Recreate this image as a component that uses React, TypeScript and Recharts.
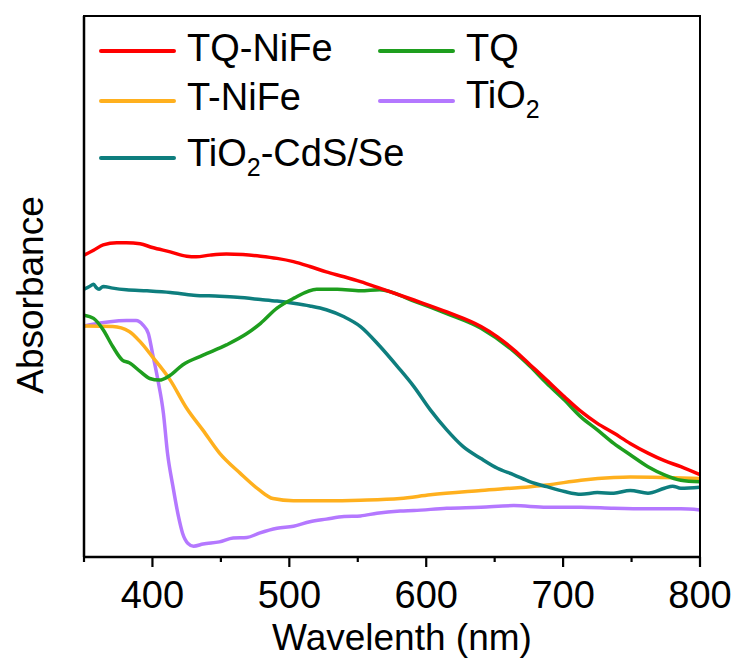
import React from 'react';
import { LineChart, Line, XAxis, YAxis } from 'recharts';

const FONT = '"Liberation Sans", Arial, Helvetica, sans-serif';

// x axis ticks (nm)
const xTicks = [350, 400, 450, 500, 550, 600, 650, 700, 750, 800];
const xDomain = [350, 800];
const yDomain = [0, 1];

// TQ-NiFe
const tqNiFeWl = [350, 357, 364, 374, 381, 391, 400, 413, 425, 432, 442, 454, 466, 479, 491, 503, 515, 527, 540, 552, 566, 591, 615, 640, 652, 664, 676, 688, 701, 713, 725, 737, 749, 762, 774, 786, 800];
const tqNiFeAbs = [0.558, 0.567, 0.577, 0.581, 0.581, 0.579, 0.572, 0.564, 0.556, 0.555, 0.558, 0.560, 0.559, 0.556, 0.552, 0.546, 0.537, 0.527, 0.518, 0.509, 0.497, 0.475, 0.453, 0.426, 0.407, 0.383, 0.355, 0.327, 0.296, 0.269, 0.247, 0.229, 0.210, 0.192, 0.178, 0.167, 0.152];

// TQ
const tqWl = [350, 357, 364, 371, 378, 383, 391, 398, 405, 413, 422, 437, 454, 469, 479, 491, 503, 520, 535, 552, 566, 591, 615, 640, 664, 676, 688, 701, 713, 725, 737, 749, 762, 774, 786, 800];
const tqAbs = [0.447, 0.441, 0.420, 0.389, 0.364, 0.359, 0.343, 0.330, 0.327, 0.336, 0.355, 0.373, 0.392, 0.413, 0.432, 0.460, 0.478, 0.495, 0.495, 0.492, 0.494, 0.473, 0.450, 0.423, 0.380, 0.352, 0.321, 0.290, 0.259, 0.235, 0.210, 0.189, 0.167, 0.152, 0.142, 0.139];

// T-NiFe
const tNiFeWl = [350, 371, 383, 391, 400, 413, 425, 437, 449, 464, 478, 488, 503, 527, 552, 581, 603, 640, 676, 688, 713, 737, 749, 774, 800];
const tNiFeAbs = [0.427, 0.426, 0.417, 0.398, 0.370, 0.327, 0.275, 0.234, 0.192, 0.155, 0.124, 0.108, 0.104, 0.104, 0.105, 0.108, 0.115, 0.123, 0.130, 0.133, 0.142, 0.147, 0.148, 0.147, 0.145];

// TiO2
const tio2Wl = [350, 361, 369, 381, 388, 393, 397, 400, 404, 408, 411, 415, 419, 422, 426, 430, 437, 449, 459, 469, 478, 491, 503, 515, 527, 540, 552, 564, 581, 591, 615, 640, 664, 688, 713, 737, 762, 786, 800];
const tio2Abs = [0.427, 0.432, 0.435, 0.437, 0.437, 0.429, 0.413, 0.377, 0.327, 0.266, 0.192, 0.130, 0.075, 0.044, 0.025, 0.020, 0.024, 0.028, 0.035, 0.036, 0.044, 0.053, 0.057, 0.065, 0.070, 0.075, 0.076, 0.081, 0.085, 0.086, 0.090, 0.092, 0.095, 0.092, 0.092, 0.090, 0.089, 0.089, 0.087];

// TiO2-CdS/Se
const cdsWl = [350, 354, 357, 359, 361, 364, 371, 381, 396, 413, 430, 449, 462, 479, 491, 503, 515, 527, 540, 552, 566, 579, 591, 603, 615, 627, 640, 652, 664, 676, 688, 701, 713, 725, 737, 749, 762, 774, 780, 786, 800];
const cdsAbs = [0.495, 0.500, 0.504, 0.498, 0.495, 0.500, 0.497, 0.494, 0.492, 0.489, 0.484, 0.482, 0.480, 0.476, 0.473, 0.469, 0.464, 0.457, 0.444, 0.426, 0.390, 0.352, 0.315, 0.272, 0.235, 0.204, 0.182, 0.164, 0.152, 0.139, 0.130, 0.121, 0.116, 0.119, 0.118, 0.123, 0.118, 0.127, 0.131, 0.127, 0.129];

const toPoints = (wl: number[], ab: number[]) => wl.map((w, i) => ({ wl: w, abs: ab[i] }));

// drawing order (last drawn on top)
const series = [
  { name: 'TiO2', color: '#B478FF', data: toPoints(tio2Wl, tio2Abs) },
  { name: 'T-NiFe', color: '#FFB01E', data: toPoints(tNiFeWl, tNiFeAbs) },
  { name: 'TiO2-CdS/Se', color: '#0E7E7E', data: toPoints(cdsWl, cdsAbs) },
  { name: 'TQ', color: '#1E9E1E', data: toPoints(tqWl, tqAbs) },
  { name: 'TQ-NiFe', color: '#FF0000', data: toPoints(tqNiFeWl, tqNiFeAbs) },
];

const legendOrder = ['TQ-NiFe', 'TQ', 'T-NiFe', 'TiO2', 'TiO2-CdS/Se'];
const legendSlots = [
  { left: 99, cy: 47.5 },
  { left: 378, cy: 47.5 },
  { left: 99, cy: 97 },
  { left: 378, cy: 97 },
  { left: 99, cy: 154.5 },
];

const W = 734;
const H = 660;
const MARGIN = { top: 16, right: 34, left: 0, bottom: 0 };
const Y_AXIS_W = 84;
const X_AXIS_H = 103;
const FRAME_W = 2.5;

const renderName = (name: string) => {
  const idx = name.indexOf('O2');
  if (idx < 0) return name;
  return (
    <>
      {name.slice(0, idx + 1)}
      <span style={{ fontSize: 25, position: 'relative', top: 10 }}>2</span>
      {name.slice(idx + 2)}
    </>
  );
};

const XTick = (props: any) => {
  const { x, y, payload } = props;
  const major = payload.value % 100 === 0;
  return (
    <g>
      <line x1={x} x2={x} y1={y} y2={y + (major ? 10 : 5)} stroke="#000" strokeWidth={2.2} />
      {major && (
        <text x={x} y={y + 51} textAnchor="middle" fontSize={38} fontFamily={FONT} fill="#000">
          {payload.value}
        </text>
      )}
    </g>
  );
};

const XTitle = (props: any) => {
  const vb = props.viewBox || { x: 84, y: 557, width: 616, height: 103 };
  return (
    <text x={vb.x + vb.width / 2 + 10} y={vb.y + 93} textAnchor="middle" fontSize={37} fontFamily={FONT} fill="#000">
      Wavelenth (nm)
    </text>
  );
};

const YTitle = (props: any) => {
  const vb = props.viewBox || { x: 0, y: 16, width: 84, height: 541 };
  const x = vb.x + 43;
  const y = vb.y + vb.height / 2 + 8.5;
  return (
    <text x={x} y={y} transform={`rotate(-90 ${x} ${y})`} textAnchor="middle" fontSize={37} fontFamily={FONT} fill="#000">
      Absorbance
    </text>
  );
};

const frameLine = { stroke: '#000', strokeWidth: FRAME_W };

export default function App() {
  const legendItems = legendOrder.map((n) => series.find((s) => s.name === n)!);
  const plotLeft = MARGIN.left + Y_AXIS_W;
  const plotTop = MARGIN.top;
  const plotRight = W - MARGIN.right;
  const plotBottom = H - MARGIN.bottom - X_AXIS_H;
  return (
    <div style={{ position: 'absolute', left: 0, top: 0, width: W, height: H, background: '#fff' }}>
      <LineChart width={W} height={H} margin={MARGIN}>
        <XAxis
          xAxisId="bottom"
          type="number"
          dataKey="wl"
          domain={xDomain}
          ticks={xTicks}
          interval={0}
          allowDataOverflow
          height={X_AXIS_H}
          axisLine={frameLine}
          tickLine={false}
          tickSize={0}
          tickMargin={0}
          tick={(p: any) => <XTick {...p} />}
          label={(p: any) => <XTitle {...p} />}
        />
        <YAxis
          yAxisId="left"
          type="number"
          domain={yDomain}
          width={Y_AXIS_W}
          tick={false}
          tickLine={false}
          axisLine={frameLine}
          allowDataOverflow
          label={(p: any) => <YTitle {...p} />}
        />
        {series.map((s) => (
          <Line
            key={s.name}
            xAxisId="bottom"
            yAxisId="left"
            data={s.data}
            dataKey="abs"
            name={s.name}
            type="monotone"
            stroke={s.color}
            strokeWidth={3.5}
            dot={false}
            activeDot={false}
            isAnimationActive={false}
          />
        ))}
      </LineChart>
      {/* plot frame (top and right edges) */}
      <div
        style={{
          position: 'absolute',
          left: plotLeft - FRAME_W / 2,
          top: plotTop - FRAME_W / 2,
          width: plotRight - plotLeft + FRAME_W,
          height: plotBottom - plotTop + FRAME_W,
          borderTop: `${FRAME_W}px solid #000`,
          borderRight: `${FRAME_W}px solid #000`,
          boxSizing: 'border-box',
          pointerEvents: 'none',
        }}
      />
      {legendItems.map((s, i) => (
        <div
          key={s.name}
          style={{
            position: 'absolute',
            left: legendSlots[i].left,
            top: legendSlots[i].cy - 25,
            height: 50,
            display: 'flex',
            alignItems: 'center',
            whiteSpace: 'nowrap',
          }}
        >
          <div style={{ width: 77, height: 4, borderRadius: 2, background: s.color, position: 'relative', top: 3.5 }} />
          <span style={{ marginLeft: 11, fontSize: 38, lineHeight: '38px', fontFamily: FONT, color: '#000' }}>
            {renderName(s.name)}
          </span>
        </div>
      ))}
    </div>
  );
}
